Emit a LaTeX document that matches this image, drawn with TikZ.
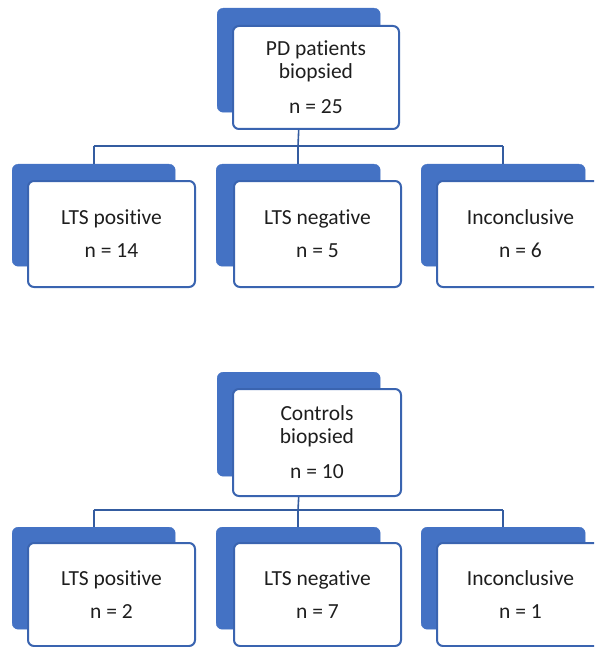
\documentclass[tikz,border=0pt]{standalone}
\usepackage{fontspec}
\setmainfont{Carlito}[Ligatures=NoCommon]
\definecolor{backblue}{RGB}{68,114,196}
\definecolor{edgeblue}{RGB}{58,100,176}
\definecolor{linkblue}{RGB}{52,92,160}
\definecolor{txt}{RGB}{30,30,30}
\begin{document}
\begin{tikzpicture}[x=1pt,y=-1pt,
  backbox/.style={fill=backblue, draw=backblue, rounded corners=6pt, inner sep=0pt, anchor=north west},
  frontbox/.style={fill=white, draw=edgeblue, line width=2pt, rounded corners=6pt, inner sep=0pt,
    anchor=north west, align=center, text=txt, font=\fontsize{21.5}{23}\selectfont},
  link/.style={draw=linkblue, line width=1.6pt}]
\useasboundingbox (0,0) rectangle (594,647);
\clip (0,0) rectangle (594,647);

% ---------- top section ----------
\node[backbox, minimum width=163pt, minimum height=104pt] (pdb) at (217,8) {};
\node[frontbox, minimum width=166pt, minimum height=103pt] (pd) at (232,25) {PD patients\\ biopsied\\[12pt] n = 25};

\node[backbox, minimum width=163pt, minimum height=102pt] (a1b) at (12,164) {};
\node[frontbox, minimum width=167pt, minimum height=106pt] (a1) at (27,180) {LTS positive\\[10pt] n = 14};
\node[backbox, minimum width=164pt, minimum height=102pt] (a2b) at (216,164) {};
\node[frontbox, minimum width=167pt, minimum height=106pt] (a2) at (233,180) {LTS negative\\[10pt] n = 5};
\node[backbox, minimum width=164pt, minimum height=102pt] (a3b) at (421,164) {};
\node[frontbox, minimum width=167pt, minimum height=106pt] (a3) at (436,180) {Inconclusive\\[10pt] n = 6};

\coordinate (busA) at (298,146);
\draw[link] (pdb.center |- pd.south) -- (busA);
\draw[link] (a1b.north |- busA) -- (a3b.north |- busA);
\draw[link] (a1b.north |- busA) -- (a1b.north);
\draw[link] (a2b.north |- busA) -- (a2b.north);
\draw[link] (a3b.north |- busA) -- (a3b.north);

% ---------- bottom section ----------
\node[backbox, minimum width=163pt, minimum height=104pt] (ctb) at (217,372) {};
\node[frontbox, minimum width=168pt, minimum height=107pt] (ct) at (232,388) {Controls\\ biopsied\\[12pt] n = 10};

\node[backbox, minimum width=163pt, minimum height=102pt] (b1b) at (12,527) {};
\node[frontbox, minimum width=167pt, minimum height=103pt] (b1) at (27,542) {LTS positive\\[10pt] n = 2};
\node[backbox, minimum width=164pt, minimum height=102pt] (b2b) at (216,527) {};
\node[frontbox, minimum width=167pt, minimum height=103pt] (b2) at (233,542) {LTS negative\\[10pt] n = 7};
\node[backbox, minimum width=164pt, minimum height=102pt] (b3b) at (421,527) {};
\node[frontbox, minimum width=167pt, minimum height=103pt] (b3) at (436,542) {Inconclusive\\[10pt] n = 1};

\coordinate (busB) at (298,510);
\draw[link] (ctb.center |- ct.south) -- (busB);
\draw[link] (b1b.north |- busB) -- (b3b.north |- busB);
\draw[link] (b1b.north |- busB) -- (b1b.north);
\draw[link] (b2b.north |- busB) -- (b2b.north);
\draw[link] (b3b.north |- busB) -- (b3b.north);
\end{tikzpicture}
\end{document}
